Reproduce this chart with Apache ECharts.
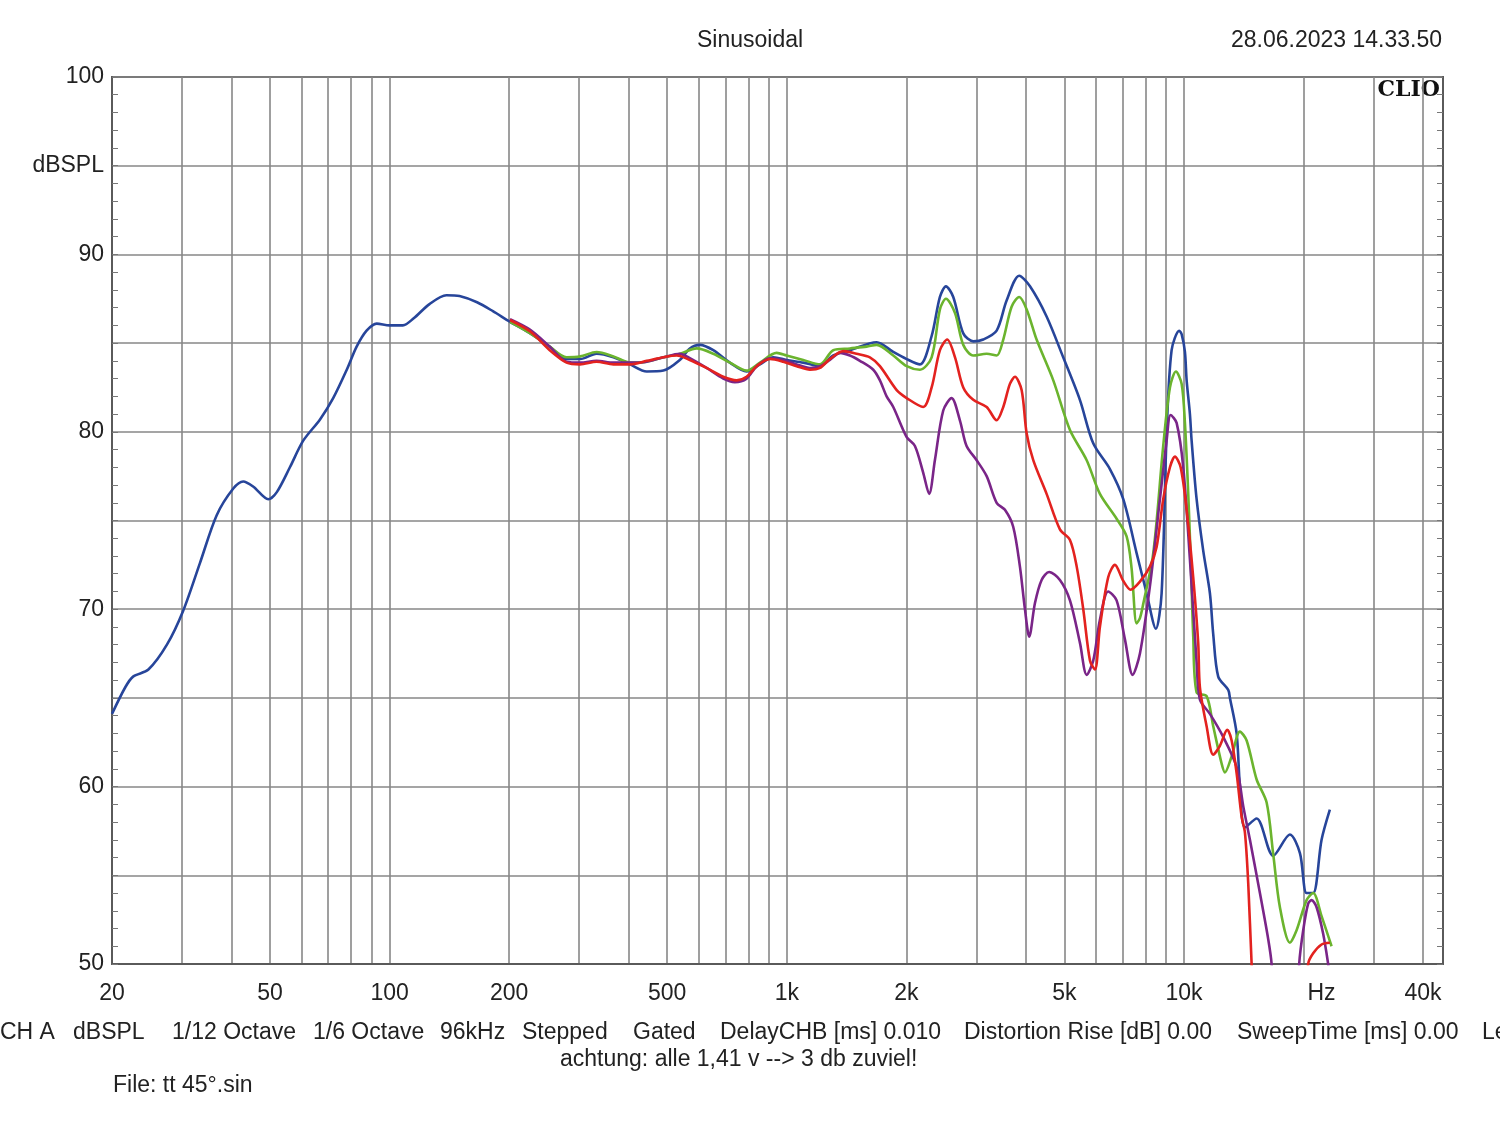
<!DOCTYPE html>
<html>
<head>
<meta charset="utf-8">
<title>Sinusoidal</title>
<script src="https://cdn.jsdelivr.net/npm/echarts@6/dist/echarts.min.js"></script>
<style>
  html, body { margin: 0; padding: 0; background: #fff; }
  #chart { width: 1500px; height: 1121px; }
</style>
</head>
<body>
<div id="chart"></div>
<script>
// frequency [Hz], level [dBSPL]
const blueCurve = [
  [20, 64.1], [21.6, 65.6], [22.6, 66.2], [24.7, 66.6], [27.5, 68.0], [30.2, 69.9], [33.3, 72.6],
  [36.7, 75.3], [40.4, 76.8], [42.8, 77.2], [45.4, 76.9], [49.5, 76.2], [52, 76.6], [56.1, 78.0],
  [60.6, 79.5], [66.8, 80.7], [72.1, 81.9], [78, 83.5], [82.6, 84.8], [87.5, 85.7], [92.8, 86.1],
  [100, 86.0], [108, 86.0], [115, 86.4], [126, 87.2], [139, 87.7], [150, 87.65], [166, 87.3],
  [182, 86.8], [201, 86.2], [226, 85.55], [253, 84.8], [279, 84.1], [302, 84.1], [332, 84.4],
  [366, 84.2], [403, 83.8], [444, 83.4], [489, 83.45], [538, 84.05], [570, 84.7], [604, 84.9],
  [653, 84.6], [719, 83.9], [792, 83.4], [856, 83.8], [925, 84.2], [999, 84.05], [1100, 83.9],
  [1212, 83.7], [1309, 84.3], [1442, 84.6], [1684, 85.05], [1854, 84.5], [2004, 84.1], [2164, 83.8],
  [2316, 85.4], [2430, 87.6], [2516, 88.2], [2625, 87.6], [2782, 85.55], [2948, 85.1], [3124, 85.2],
  [3376, 85.7], [3577, 87.4], [3848, 88.8], [4096, 88.2], [4510, 86.5], [4966, 84.2], [5470, 81.8],
  [5910, 79.35], [6510, 77.9], [7034, 76.2], [7602, 73.15], [8054, 70.9], [8500, 68.9], [8786, 70.9],
  [9044, 79.9], [9310, 84.6], [9730, 85.7], [9868, 85.5], [10057, 84.5], [10157, 82.9], [10352, 81.0],
  [10455, 79.5], [10762, 76.2], [11182, 73.3], [11624, 70.9], [11850, 68.6], [12198, 66.2],
  [12926, 65.45], [13054, 65.0], [13572, 63.0], [13834, 60.0], [14242, 57.7], [15240, 58.2],
  [16778, 56.1], [18482, 57.3], [19588, 56.25], [20360, 54.0], [21152, 54.0], [22208, 57.0], [23302, 58.7]
];

const greenCurve = [
  [201, 86.2], [226, 85.55], [253, 84.8], [279, 84.2], [302, 84.25], [332, 84.5], [366, 84.25],
  [403, 83.9], [444, 83.95], [489, 84.2], [538, 84.4], [593, 84.7], [653, 84.4], [719, 83.9],
  [792, 83.45], [856, 83.9], [943, 84.45], [999, 84.3], [1100, 84.05], [1212, 83.8], [1309, 84.6],
  [1442, 84.7], [1589, 84.8], [1684, 84.9], [1854, 84.3], [2004, 83.7], [2164, 83.5], [2316, 84.2],
  [2430, 86.9], [2516, 87.5], [2652, 86.7], [2782, 84.9], [2948, 84.3], [3186, 84.4], [3376, 84.3],
  [3508, 85.2], [3682, 87.05], [3848, 87.6], [4018, 86.9], [4256, 85.2], [4688, 82.9], [5164, 80.1],
  [5690, 78.4], [6144, 76.5], [6768, 75.1], [7172, 74.1], [7382, 72.3], [7600, 69.2], [7748, 69.5],
  [7898, 70.3], [8368, 73.15], [8868, 79.2], [9220, 82.5], [9544, 83.4], [9868, 82.7], [10057, 80.5],
  [10252, 76.5], [10412, 72.5], [10552, 68.5], [10762, 65.3], [11404, 65.1], [11850, 63.4],
  [12440, 61.3], [12680, 60.8], [13184, 61.7], [13834, 63.1], [14382, 62.6], [15240, 60.4],
  [16150, 59.1], [16778, 56.2], [17442, 53.2], [18482, 51.2], [19214, 51.9], [20360, 53.6],
  [21152, 54.0], [22208, 52.7], [23532, 51.0]
];

const redCurve = [
  [201, 86.3], [226, 85.65], [253, 84.6], [279, 83.9], [302, 83.8], [332, 83.95], [366, 83.8],
  [403, 83.8], [444, 84.0], [489, 84.2], [528, 84.3], [570, 84.05], [628, 83.6], [692, 83.1],
  [748, 82.9], [792, 83.1], [840, 83.7], [907, 84.1], [980, 83.95], [1059, 83.7], [1144, 83.5],
  [1212, 83.6], [1284, 84.1], [1387, 84.55], [1499, 84.4], [1619, 84.2], [1716, 83.7], [1891, 82.35],
  [2004, 81.9], [2205, 81.4], [2316, 82.5], [2430, 84.6], [2535, 85.2], [2652, 84.2], [2782, 82.5],
  [2948, 81.8], [3186, 81.4], [3376, 80.65], [3508, 81.4], [3646, 82.7], [3754, 83.1], [3902, 82.35],
  [4018, 79.9], [4174, 78.4], [4510, 76.5], [4872, 74.5], [5164, 73.9], [5370, 72.4], [5578, 70.0],
  [5800, 67.1], [5970, 66.6], [6144, 69.0], [6446, 71.8], [6702, 72.5], [7032, 71.6], [7340, 71.1],
  [7748, 71.55], [8210, 72.4], [8534, 73.5], [8868, 76.2], [9220, 78.0], [9490, 78.6], [9810, 78.0],
  [10157, 75.6], [10552, 71.8], [10862, 68.1], [10970, 65.6], [11404, 63.4], [11850, 61.8],
  [12318, 62.3], [12852, 63.2], [13184, 62.6], [13572, 60.75], [13972, 58.3], [14242, 57.4],
  [14516, 54.55], [14804, 50.0], [15100, 46], [20200, 46], [20546, 50.0], [21152, 50.6],
  [22208, 51.1], [23302, 51.2]
];

const purpleCurve = [
  [201, 86.35], [226, 85.75], [253, 84.8], [279, 83.95], [302, 83.9], [332, 84.0], [366, 83.9],
  [403, 83.9], [444, 83.95], [489, 84.2], [538, 84.4], [570, 84.15], [628, 83.6], [692, 83.0],
  [740, 82.8], [792, 83.0], [840, 83.7], [907, 84.15], [980, 84.05], [1059, 83.8], [1144, 83.6],
  [1212, 83.7], [1284, 84.05], [1361, 84.45], [1442, 84.3], [1528, 84.0], [1651, 83.5], [1716, 82.9],
  [1784, 82.0], [1854, 81.4], [2004, 79.7], [2102, 79.2], [2205, 77.7], [2283, 76.5], [2360, 78.4],
  [2477, 81.2], [2600, 81.9], [2728, 80.65], [2836, 79.2], [3006, 78.4], [3186, 77.5], [3376, 76.0],
  [3542, 75.6], [3716, 74.65], [3864, 72.4], [3978, 70.0], [4078, 68.45], [4216, 70.35], [4382, 71.65],
  [4578, 72.1], [4872, 71.65], [5164, 70.5], [5472, 68.1], [5690, 66.3], [5910, 67.1], [6144, 69.4],
  [6446, 71.0], [6768, 70.5], [7102, 68.3], [7426, 66.3], [7748, 67.5], [8210, 71.3], [8700, 76.2],
  [9044, 79.5], [9256, 80.95], [9584, 80.5], [9960, 78.0], [10352, 72.8], [10762, 67.0], [10970, 64.9],
  [11624, 64.1], [12556, 62.8], [13572, 61.1], [14102, 58.9], [14660, 57.0], [15534, 54.0],
  [16300, 51.4], [16624, 50.0], [17000, 46], [19200, 46], [19506, 50.0], [19966, 51.9],
  [20546, 53.4], [20956, 53.6], [21574, 53.2], [22414, 51.7], [23072, 50.0], [23300, 49.2]
];

const gridFreqs = [20, 30, 40, 50, 60, 70, 80, 90, 100, 200, 300, 400, 500, 600, 700, 800, 900,
  1000, 2000, 3000, 4000, 5000, 6000, 7000, 8000, 9000, 10000, 20000, 30000, 40000];
const labelFreqs = [20, 50, 100, 200, 500, 1000, 2000, 5000, 10000, 20000, 40000];

const titleText = 'Sinusoidal';
const dateText = '28.06.2023 14.33.50';
const infoItems = ['CH A', 'dBSPL', '1/12 Octave', '1/6 Octave', '96kHz', 'Stepped', 'Gated',
  'DelayCHB [ms] 0.010', 'Distortion Rise [dB] 0.00', 'SweepTime [ms] 0.00', 'Le'];
const noteText = 'achtung: alle 1,41 v --> 3 db zuviel!';
const fileText = 'File: tt 45°.sin';

const font = 'Liberation Sans, Arial, sans-serif';
const textFont = '23px ' + font;
const infoX = [0, 73, 172, 313, 440, 522, 633, 720, 964, 1237, 1482];

const chart = echarts.init(document.getElementById('chart'));

function freqLabel(v) {
  if (v === 20000) return '{hz|Hz}';
  return v >= 1000 ? (v / 1000) + 'k' : String(v);
}

function yAxisDef(position) {
  return {
    type: 'value',
    position: position,
    min: 50,
    max: 100,
    interval: 5,
    axisLine: { show: true, lineStyle: { color: '#5a5a5a', width: 2 } },
    axisTick: { show: true, inside: true, length: 6, lineStyle: { color: '#777' } },
    minorTick: { show: true, splitNumber: 5, length: 6, lineStyle: { color: '#777', width: 1 } },
    splitLine: { show: position === 'left', lineStyle: { color: '#878787', width: 1.6 } },
    axisLabel: {
      show: position === 'left',
      margin: 8,
      padding: [4, 0, 0, 0],
      color: '#222',
      fontSize: 23,
      fontFamily: font,
      formatter: function (v) {
        if (v % 10 === 0) return String(v);
        if (v === 95) return 'dBSPL';
        return '';
      }
    }
  };
}

const texts = [
  { type: 'text', left: 697, top: 29, style: { text: titleText, fill: '#222', font: textFont } },
  { type: 'text', right: 58, top: 29, style: { text: dateText, fill: '#222', font: textFont } },
  { type: 'text', right: 60, top: 79, style: { text: 'CLIO', fill: '#111', font: 'bold 22px "DejaVu Serif", "Liberation Serif", serif' } },
  { type: 'text', left: 560, top: 1048, style: { text: noteText, fill: '#222', font: textFont } },
  { type: 'text', left: 113, top: 1074, style: { text: fileText, fill: '#222', font: textFont } }
];
infoItems.forEach(function (t, i) {
  texts.push({ type: 'text', left: infoX[i], top: 1021, style: { text: t, fill: '#222', font: textFont } });
});

function lineSeries(name, data, color) {
  return {
    name: name,
    type: 'line',
    data: data,
    showSymbol: false,
    symbol: 'none',
    smooth: 0.3,
    clip: true,
    lineStyle: { color: color, width: 2.6 },
    animation: false
  };
}

chart.setOption({
  backgroundColor: '#fff',
  animation: false,
  grid: { left: 112, right: 57, top: 77, bottom: 157, show: true, borderColor: '#5a5a5a', borderWidth: 2 },
  xAxis: {
    type: 'log',
    logBase: 10,
    min: 20,
    max: 44900,
    axisLine: { show: true, lineStyle: { color: '#5a5a5a', width: 2 } },
    axisTick: { show: false, customValues: gridFreqs },
    splitLine: { show: true, lineStyle: { color: '#878787', width: 1.6 } },
    axisLabel: {
      customValues: labelFreqs,
      margin: 18,
      color: '#222',
      fontSize: 23,
      fontFamily: font,
      formatter: freqLabel,
      rich: { hz: { fontSize: 23, fontFamily: font, color: '#222', padding: [0, 0, 0, 36] } }
    }
  },
  yAxis: [yAxisDef('left'), yAxisDef('right')],
  graphic: texts,
  series: [
    lineSeries('blue', blueCurve, '#27459a'),
    lineSeries('green', greenCurve, '#6bb42e'),
    lineSeries('purple', purpleCurve, '#7a2588'),
    lineSeries('red', redCurve, '#e3221f')
  ]
});
</script>
</body>
</html>
